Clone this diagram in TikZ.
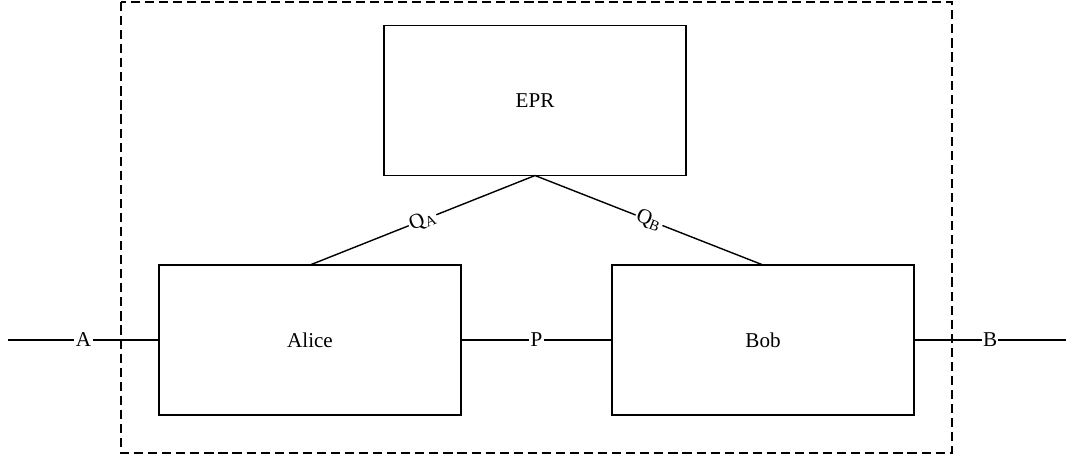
\documentclass[tikz,border=0pt]{standalone}
\usepackage{fontspec}
\setmainfont{Liberation Serif}
\tikzset{
  party/.style={draw, line width=1.2pt, minimum width=7.55cm, minimum height=3.75cm,
    inner sep=0pt, outer sep=0pt, font=\fontsize{15}{18}\selectfont},
  wire/.style={line width=1pt},
  tag/.style={fill=white, inner sep=1pt, font=\fontsize{15}{18}\selectfont},
  frame/.style={line width=1.3pt, dash pattern=on 6.5pt off 3.5pt}
}
\begin{document}
\begin{tikzpicture}[x=0.025cm, y=-0.025cm]
    \useasboundingbox (0,0) rectangle (1069,460);

    \draw[frame] (121,2) rectangle (952,453);

    \node[party] (epr) at (535,100.5) {EPR};
    \node[party] (alice) at (310,340) {Alice};
    \node[party] (bob) at (763,340) {Bob};

    \coordinate (in) at (8,340);
    \coordinate (out) at (1066,340);

    \draw[wire] (epr.south) -- node[tag, sloped] {Q\textsubscript{A}} (alice.north);
    \draw[wire] (epr.south) -- node[tag, sloped] {Q\textsubscript{B}} (bob.north);
    \draw[wire] (in) -- node[tag] {A} (alice.west);
    \draw[wire] (alice.east) -- node[tag] {P} (bob.west);
    \draw[wire] (bob.east) -- node[tag] {B} (out);
\end{tikzpicture}
\end{document}
